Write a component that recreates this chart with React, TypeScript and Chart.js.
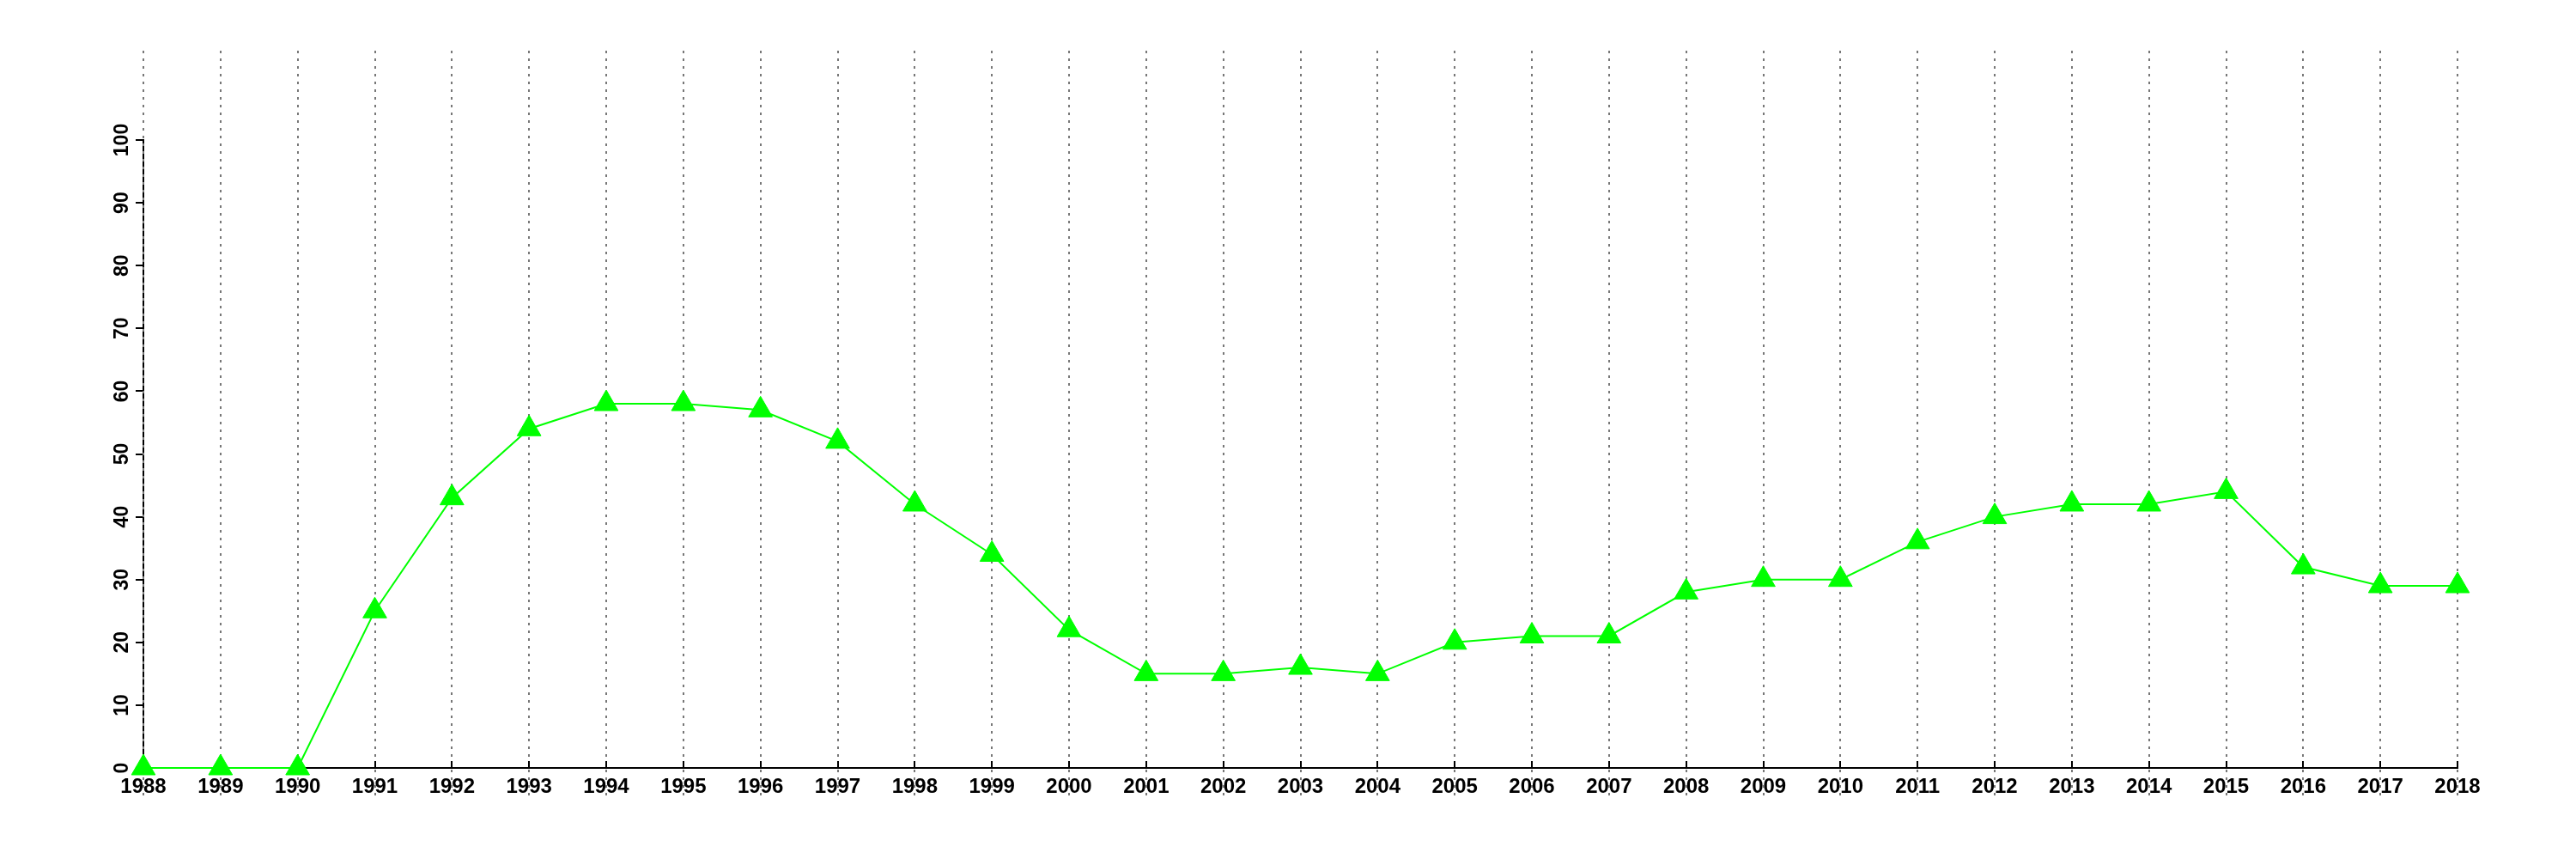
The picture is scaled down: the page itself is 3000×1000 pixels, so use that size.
import React, { useEffect, useRef } from "react";
import { Chart, registerables } from "chart.js";

Chart.register(...registerables);

const years = [
  "1988", "1989", "1990", "1991", "1992", "1993", "1994", "1995", "1996", "1997",
  "1998", "1999", "2000", "2001", "2002", "2003", "2004", "2005", "2006", "2007",
  "2008", "2009", "2010", "2011", "2012", "2013", "2014", "2015", "2016", "2017", "2018",
];
const values = [
  0, 0, 0, 25, 43, 54, 58, 58, 57, 52,
  42, 34, 22, 15, 15, 16, 15, 20, 21, 21,
  28, 30, 30, 36, 40, 42, 42, 44, 32, 29, 29,
];
const yMin = 0;
const yMax = 100;
const yStep = 10;

const FAMILY = "'Liberation Sans', Arial, Helvetica, sans-serif";
const XFONT = { family: FAMILY, size: 24, weight: "bold" as const };
const YFONT = { family: FAMILY, size: 23, weight: "bold" as const };

const yearLines = {
  id: "yearLines",
  beforeDatasetsDraw(chart: any) {
    const ctx = chart.ctx;
    const xs = chart.scales.x;
    const { top, bottom } = chart.chartArea;
    ctx.save();
    ctx.strokeStyle = "#777777";
    ctx.lineWidth = 2;
    ctx.setLineDash([3, 6]);
    years.forEach((_, i) => {
      const px = Math.round(xs.getPixelForTick(i));
      ctx.beginPath();
      ctx.moveTo(px, top - 104);
      ctx.lineTo(px, bottom + 33);
      ctx.stroke();
    });
    ctx.setLineDash([]);
    ctx.strokeStyle = "#000000";
    years.forEach((_, i) => {
      const px = Math.round(xs.getPixelForTick(i));
      ctx.beginPath();
      ctx.moveTo(px, bottom);
      ctx.lineTo(px, bottom - 8);
      ctx.stroke();
    });
    ctx.restore();
  },
};

export default function App() {
  const ref = useRef<HTMLCanvasElement>(null);
  useEffect(() => {
    if (!ref.current) return;
    const chart = new Chart(ref.current, {
      type: "line",
      data: {
        labels: years,
        datasets: [
          {
            data: values,
            borderColor: "#00ff00",
            backgroundColor: "#00ff00",
            borderWidth: 2,
            pointStyle: "triangle",
            pointRadius: 16,
            pointBorderWidth: 1,
            pointBackgroundColor: "#00ff00",
            pointBorderColor: "#00ff00",
            tension: 0,
            clip: false as any,
          },
        ],
      },
      options: {
        responsive: false,
        maintainAspectRatio: false,
        devicePixelRatio: 1,
        animation: false,
        layout: { padding: { left: 0, top: 163, right: 138, bottom: 0 } },
        plugins: { legend: { display: false }, tooltip: { enabled: false } },
        scales: {
          x: {
            type: "category",
            offset: false,
            grid: { display: false },
            border: { display: true, color: "#000000", width: 2 },
            ticks: { autoSkip: false, maxRotation: 0, minRotation: 0, color: "#000000", font: XFONT, padding: 0 },
            afterFit: (s: any) => { s.height = 106; },
          },
          y: {
            min: yMin,
            max: yMax,
            grid: { drawOnChartArea: false, drawTicks: true, tickLength: 9, color: "#000000", lineWidth: 2 },
            border: { display: true, color: "#000000", width: 2 },
            ticks: {
              stepSize: yStep,
              minRotation: 90,
              maxRotation: 90,
              crossAlign: "center",
              padding: -4,
              color: "#000000",
              font: YFONT,
            },
            afterFit: (s: any) => { s.width = 167; },
          },
        },
      },
      plugins: [yearLines],
    });
    return () => chart.destroy();
  }, []);
  return (
    <div style={{ position: "absolute", left: 0, top: 0, width: 3000, height: 1000, background: "#ffffff" }}>
      <canvas ref={ref} width={3000} height={1000} style={{ display: "block" }} />
    </div>
  );
}
